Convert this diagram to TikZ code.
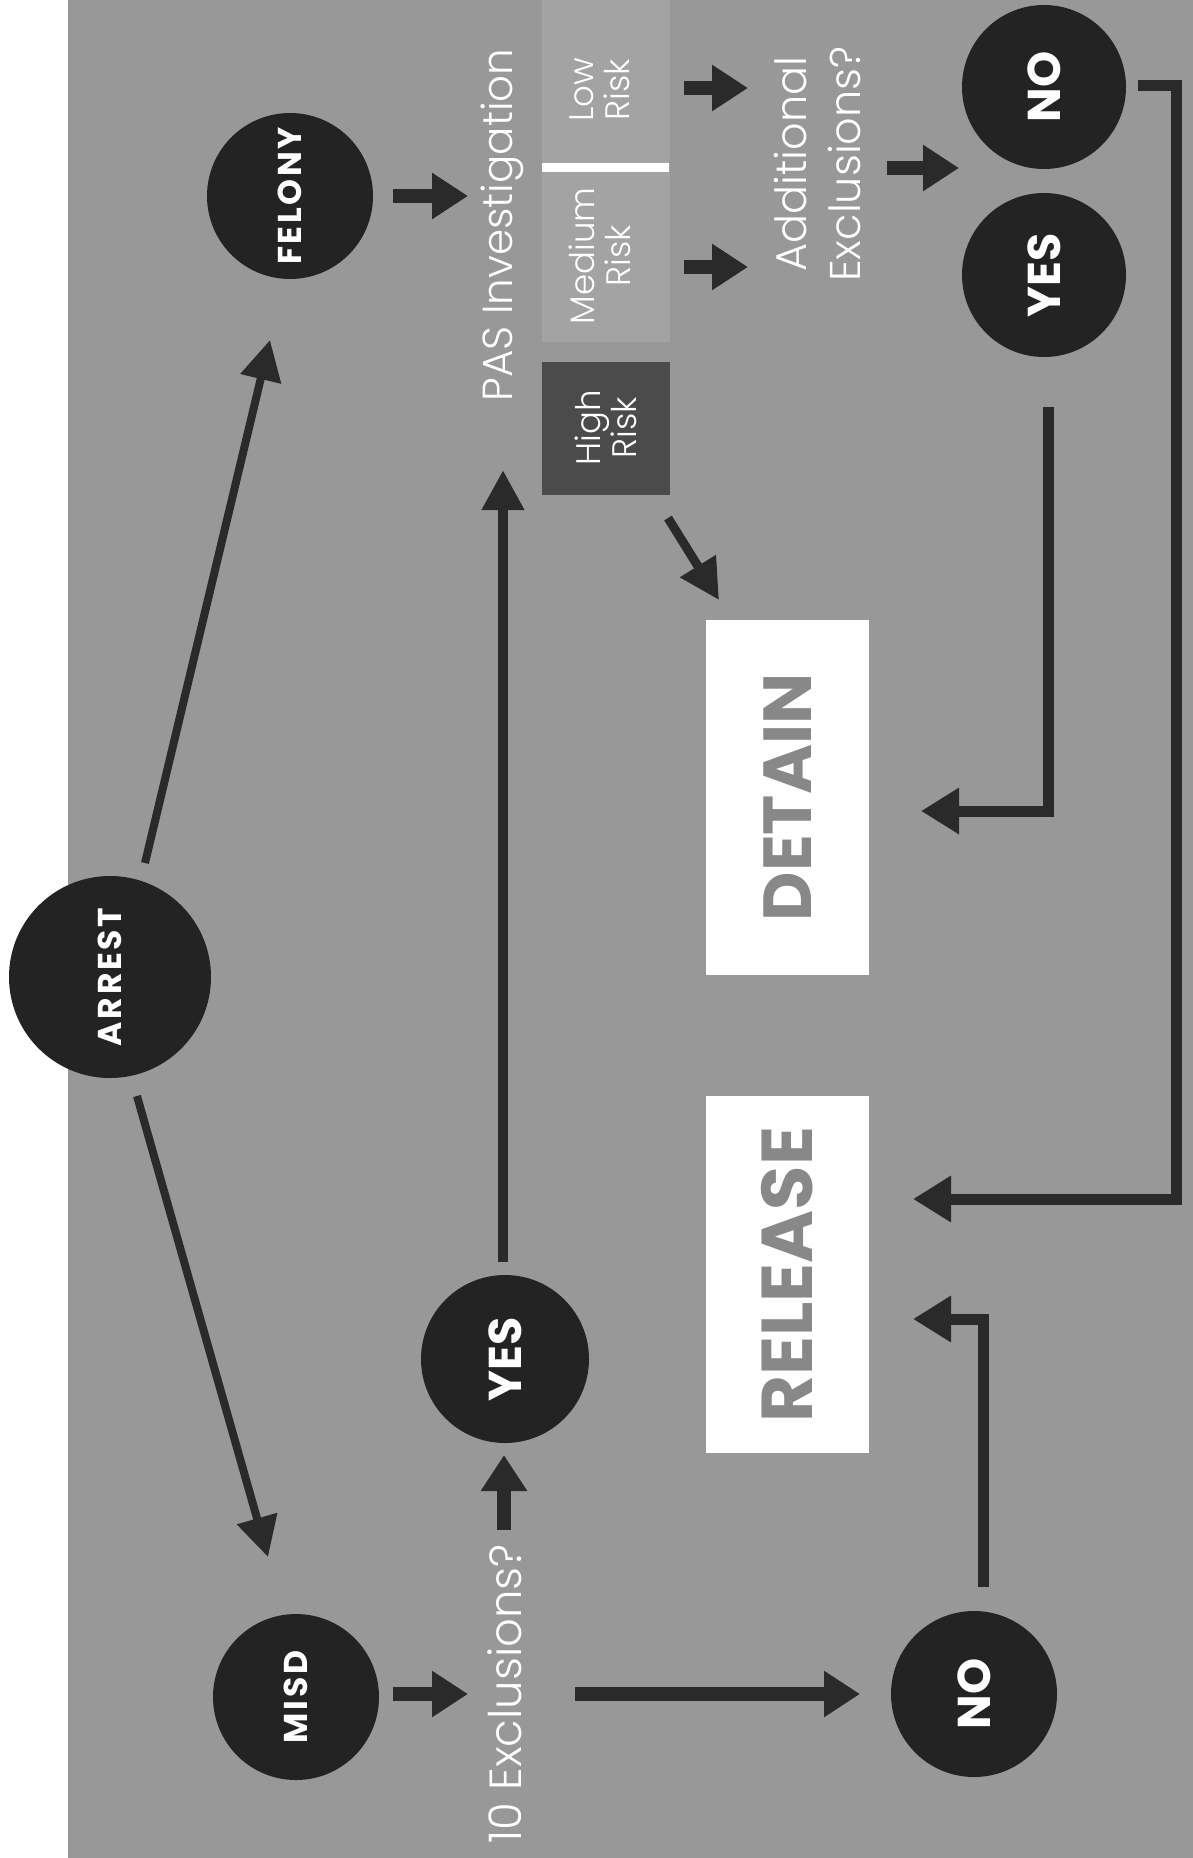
\documentclass[tikz,border=0pt]{standalone}
\usepackage{fontspec}
\setmainfont{Poppins}
\newfontfamily\spacedfont[LetterSpace=8]{Poppins}
\newfontfamily\lightfont{Poppins Light}
\usetikzlibrary{arrows.meta}
\definecolor{bg}{HTML}{989898}
\definecolor{lightbg}{HTML}{A3A3A3}
\definecolor{circ}{HTML}{232323}
\definecolor{ink}{HTML}{2A2A2A}
\definecolor{hibox}{HTML}{4B4B4B}
\definecolor{boxtext}{HTML}{888888}
\tikzset{
  circnode/.style={circle, fill=circ, text=white, inner sep=0pt, minimum size=#1},
  biglbl/.style={font=\spacedfont\bfseries\fontsize{33}{33}\selectfont},
  yesno/.style={font=\bfseries\fontsize{46}{46}\selectfont},
  plaintext/.style={text=white, inner sep=0pt, rotate=90, align=center},
  outbox/.style={fill=white, text=boxtext, inner sep=0pt, rotate=90, font=\bfseries\fontsize{68}{68}\selectfont},
  thinarrow/.style={draw=ink, line width=8pt, -{Triangle[length=40pt,width=40pt]}},
  stubarrow/.style={draw=ink, line width=14pt, -{Triangle[length=36pt,width=44pt]}},
  elbowarrow/.style={draw=ink, line width=11pt, line join=miter, -{Triangle[length=38pt,width=44pt]}}
}
\begin{document}
\begin{tikzpicture}[x=1pt,y=-1pt]
\useasboundingbox (0,0) rectangle (1193,1858);
\fill[white] (0,0) rectangle (1193,1858);
\fill[bg] (68,0) rectangle (1193,1858);
\fill[lightbg] (542,0) rectangle (670,342);

% circles
\node[circnode=202, biglbl, rotate=90] (arrest) at (110,977) {ARREST};
\node[circnode=166, biglbl, rotate=90] (felony) at (290,196) {FELONY};
\node[circnode=166, biglbl, rotate=90] (misd) at (296,1697) {MISD};
\node[circnode=168, yesno, rotate=90] (yesL) at (505,1359) {YES};
\node[circnode=166, yesno, rotate=90] (noB) at (974,1694) {NO};
\node[circnode=164, yesno, rotate=90] (yesR) at (1044,275) {YES};
\node[circnode=164, yesno, rotate=90] (noR) at (1044,87) {NO};

% text
\node[plaintext, font=\lightfont\fontsize{42}{42}\selectfont] (pas) at (502,225) {PAS Investigation};
\node[fill=hibox, minimum width=133pt, minimum height=128pt, plaintext,
      font=\lightfont\fontsize{34}{36}\selectfont] (high) at (606,428) {High\\Risk};
\node[plaintext, font=\lightfont\fontsize{34}{36}\selectfont] (medium) at (600,256) {Medium\\Risk};
\node[plaintext, font=\lightfont\fontsize{34}{36}\selectfont] (low) at (600,90) {Low\\Risk};
\draw[white, line width=9pt] (542,167.5) -- (669,167.5);
\node[plaintext, font=\lightfont\fontsize{43}{54}\selectfont] (addl) at (818,164) {Additional\\Exclusions?};
\node[plaintext, font=\lightfont\fontsize{45}{45}\selectfont] (tenex) at (505,1694) {10 Exclusions?};

% outcome boxes
\node[outbox, minimum width=355pt, minimum height=163pt] (detain) at (787.5,797.5) {DETAIN};
\node[outbox, minimum width=357pt, minimum height=163pt, font=\bfseries\fontsize{72}{72}\selectfont] (release) at (787.5,1274.5) {RELEASE};

% connector ends
\coordinate (afs) at (145,863);  \coordinate (afe) at (270,340);
\coordinate (ams) at (137,1096); \coordinate (ame) at (268,1557);
\coordinate (fps) at (393,196);  \coordinate (fpe) at (468,196);
\coordinate (mts) at (393,1694); \coordinate (mte) at (468,1694);
\coordinate (tys) at (504,1530); \coordinate (tye) at (504,1455);
\coordinate (tns) at (575,1694); \coordinate (tne) at (860,1694);
\coordinate (yps) at (503,1262); \coordinate (ype) at (503,470);
\coordinate (hds) at (668,518);  \coordinate (hde) at (719,600);
\coordinate (mas) at (684,267);  \coordinate (mae) at (748,267);
\coordinate (las) at (684,88);   \coordinate (lae) at (748,88);
\coordinate (ans) at (887,168);  \coordinate (ane) at (959,168);
\coordinate (yds) at (1048,407); \coordinate (ydc) at (1048,811); \coordinate (yde) at (921,811);
\coordinate (nrs) at (1138,85);  \coordinate (nrc1) at (1176,85); \coordinate (nrc2) at (1176,1199); \coordinate (nre) at (913,1199);
\coordinate (nbs) at (983,1587); \coordinate (nbc) at (983,1319); \coordinate (nbe) at (913,1319);

% connectors
\draw[thinarrow] (afs) -- (afe);
\draw[thinarrow] (ams) -- (ame);
\draw[stubarrow] (fps) -- (fpe);
\draw[stubarrow] (mts) -- (mte);
\draw[stubarrow] (tys) -- (tye);
\draw[stubarrow] (tns) -- (tne);
\draw[thinarrow, line width=10pt] (yps) -- (ype);
\draw[thinarrow, line width=9pt] (hds) -- (hde);
\draw[stubarrow] (mas) -- (mae);
\draw[stubarrow] (las) -- (lae);
\draw[stubarrow] (ans) -- (ane);
\draw[elbowarrow] (yds) -- (ydc) -- (yde);
\draw[elbowarrow] (nrs) -- (nrc1) -- (nrc2) -- (nre);
\draw[elbowarrow] (nbs) -- (nbc) -- (nbe);
\end{tikzpicture}
\end{document}
